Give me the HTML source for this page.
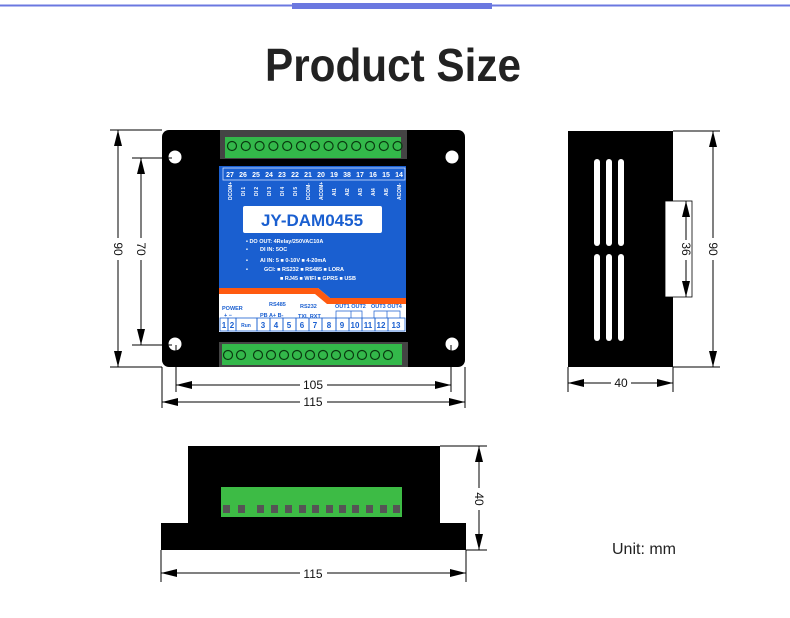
<!DOCTYPE html>
<html><head><meta charset="utf-8"><style>
body{margin:0;background:#fff}
svg{display:block;font-family:"Liberation Sans",sans-serif}
</style></head><body>
<svg width="790" height="618" viewBox="0 0 790 618" xmlns="http://www.w3.org/2000/svg">
<defs>
<marker id="b" viewBox="0 0 20 10" refX="20" refY="5" markerWidth="20" markerHeight="8" orient="auto-start-reverse" markerUnits="userSpaceOnUse"><path d="M0,0L20,5L0,10z" fill="#000"/></marker>
</defs>
<rect x="0" y="4.5" width="790" height="2" fill="#6b78e0"/>
<rect x="292" y="3" width="200" height="6" fill="#6b78e0"/>
<text x="393" y="81" text-anchor="middle" font-size="46" font-weight="bold" fill="#222" textLength="256" lengthAdjust="spacingAndGlyphs">Product Size</text>

<!-- TOP VIEW -->
<rect x="162" y="130" width="303" height="237" rx="7" fill="#000"/>
<circle cx="175" cy="157" r="6.5" fill="#fff"/><circle cx="452" cy="157" r="6.5" fill="#fff"/>
<circle cx="175" cy="344" r="6.5" fill="#fff"/><circle cx="452" cy="344" r="6.5" fill="#fff"/>
<rect x="220" y="130" width="187" height="29" fill="#444"/>
<rect x="225" y="137" width="176" height="21" fill="#33b84a"/>
<g fill="none" stroke="#0a3a10" stroke-width="1.2">
<circle cx="232" cy="146" r="4.5"/><circle cx="245.8" cy="146" r="4.5"/><circle cx="259.6" cy="146" r="4.5"/><circle cx="273.4" cy="146" r="4.5"/><circle cx="287.2" cy="146" r="4.5"/><circle cx="301" cy="146" r="4.5"/><circle cx="314.8" cy="146" r="4.5"/><circle cx="328.6" cy="146" r="4.5"/><circle cx="342.4" cy="146" r="4.5"/><circle cx="356.2" cy="146" r="4.5"/><circle cx="370" cy="146" r="4.5"/><circle cx="383.8" cy="146" r="4.5"/><circle cx="397.6" cy="146" r="4.5"/>
</g>
<rect x="219" y="342" width="189" height="25" fill="#444"/>
<rect x="222" y="344" width="180" height="21" fill="#33b84a"/>
<g fill="none" stroke="#0a3a10" stroke-width="1.2">
<circle cx="228" cy="355" r="4.5"/><circle cx="241" cy="355" r="4.5"/>
<circle cx="258" cy="355" r="4.5"/><circle cx="271" cy="355" r="4.5"/><circle cx="284" cy="355" r="4.5"/><circle cx="297" cy="355" r="4.5"/><circle cx="310" cy="355" r="4.5"/><circle cx="323" cy="355" r="4.5"/><circle cx="336" cy="355" r="4.5"/><circle cx="349" cy="355" r="4.5"/><circle cx="362" cy="355" r="4.5"/><circle cx="375" cy="355" r="4.5"/><circle cx="388" cy="355" r="4.5"/>
</g>
<!-- panel -->
<rect x="219" y="166" width="187" height="166" fill="#fff"/>
<path d="M219,166H406V298H330L318,288H219Z" fill="#1a5fd0"/>
<path d="M219,288H318L330,298H406V304H327L315,294H219Z" fill="#ff5a10"/>
<rect x="223" y="168" width="182" height="12" stroke="#cfe0ff" stroke-width="0.8" fill="none"/>
<g font-size="7" font-weight="bold" fill="#fff" text-anchor="middle">
<text x="230" y="177">27</text><text x="243" y="177">26</text><text x="256" y="177">25</text><text x="269" y="177">24</text><text x="282" y="177">23</text><text x="295" y="177">22</text><text x="308" y="177">21</text><text x="321" y="177">20</text><text x="334" y="177">19</text><text x="347" y="177">38</text><text x="360" y="177">17</text><text x="373" y="177">16</text><text x="386" y="177">15</text><text x="399" y="177">14</text>
</g>
<g font-size="5" font-weight="bold" fill="#fff">
<text transform="translate(232,200) rotate(-90)">DCOM+</text><text transform="translate(245,196) rotate(-90)">DI 1</text><text transform="translate(258,196) rotate(-90)">DI 2</text><text transform="translate(271,196) rotate(-90)">DI 3</text><text transform="translate(284,196) rotate(-90)">DI 4</text><text transform="translate(297,196) rotate(-90)">DI 5</text><text transform="translate(310,200) rotate(-90)">DCOM-</text><text transform="translate(323,200) rotate(-90)">ACOM+</text><text transform="translate(336,196) rotate(-90)">AI1</text><text transform="translate(349,196) rotate(-90)">AI2</text><text transform="translate(362,196) rotate(-90)">AI3</text><text transform="translate(375,196) rotate(-90)">AI4</text><text transform="translate(388,196) rotate(-90)">AI5</text><text transform="translate(401,200) rotate(-90)">ACOM-</text>
</g>
<rect x="243" y="206" width="139" height="27" rx="2" fill="#fff"/>
<text x="312" y="226" text-anchor="middle" font-size="17" font-weight="bold" fill="#1a5fd0">JY-DAM0455</text>
<g font-size="5.5" font-weight="bold" fill="#fff">
<text x="246" y="243">• DO OUT: 4Relay/250VAC10A</text>
<text x="246" y="251">•</text><text x="260" y="251">DI IN: 5OC</text>
<text x="246" y="262">•</text><text x="260" y="262">AI IN: 5 ■ 0-10V ■ 4-20mA</text>
<text x="246" y="271">•</text><text x="264" y="271">GCI: ■ RS232 ■ RS485 ■ LORA</text>
<text x="280" y="280">■ RJ45  ■ WIFI ■ GPRS ■ USB</text>
</g>
<g font-size="5.5" font-weight="bold" fill="#1a5fd0">
<text x="222" y="310">POWER</text><text x="224" y="317">+  −</text>
<text x="269" y="306">RS485</text><text x="300" y="308">RS232</text>
<text x="260" y="317">PB   A+   B-</text><text x="298" y="318">TXL RXT</text>
<text x="335" y="308">OUT1 OUT2</text><text x="371" y="308">OUT3 OUT4</text>
</g>
<g fill="none" stroke="#1a5fd0" stroke-width="0.7">
<path d="M336,318V311H351M351,311V318M351,311H362V318"/><path d="M374,318V311H400V318M387,311V318"/>
</g>
<g fill="none" stroke="#1a5fd0" stroke-width="0.8">
<rect x="220" y="318" width="8" height="13"/><rect x="228" y="318" width="8" height="13"/><rect x="236" y="318" width="21" height="13"/>
<rect x="257" y="318" width="13" height="13"/><rect x="270" y="318" width="13" height="13"/><rect x="283" y="318" width="13" height="13"/><rect x="296" y="318" width="13" height="13"/><rect x="309" y="318" width="13" height="13"/><rect x="322" y="318" width="14" height="13"/><rect x="336" y="318" width="13" height="13"/><rect x="349" y="318" width="13" height="13"/><rect x="362" y="318" width="13" height="13"/><rect x="375" y="318" width="13" height="13"/><rect x="388" y="318" width="17" height="13"/>
</g>
<g font-size="8" font-weight="bold" fill="#1a5fd0" text-anchor="middle">
<text x="224" y="328">1</text><text x="232" y="328">2</text><text x="246" y="327" font-size="5">Run</text><text x="263" y="328">3</text><text x="276" y="328">4</text><text x="289" y="328">5</text><text x="302" y="328">6</text><text x="315" y="328">7</text><text x="329" y="328">8</text><text x="342" y="328">9</text><text x="355" y="328">10</text><text x="368" y="328">11</text><text x="381" y="328">12</text><text x="396" y="328">13</text>
</g>

<!-- top view dims -->
<g stroke="#000" stroke-width="1" fill="none">
<line x1="110" y1="130" x2="162" y2="130"/><line x1="110" y1="367" x2="162" y2="367"/>
<line x1="132" y1="158" x2="172" y2="158"/><line x1="132" y1="345" x2="172" y2="345"/>
<line x1="118" y1="130" x2="118" y2="238" marker-start="url(#b)"/><line x1="118" y1="260" x2="118" y2="367" marker-end="url(#b)"/>
<line x1="141" y1="158" x2="141" y2="238" marker-start="url(#b)"/><line x1="141" y1="260" x2="141" y2="345" marker-end="url(#b)"/>
<line x1="176" y1="345" x2="176" y2="392"/><line x1="451" y1="345" x2="451" y2="392"/>
<line x1="162" y1="367" x2="162" y2="408"/><line x1="465" y1="367" x2="465" y2="408"/>
<line x1="176" y1="385" x2="300" y2="385" marker-start="url(#b)"/><line x1="327" y1="385" x2="451" y2="385" marker-end="url(#b)"/>
<line x1="162" y1="402" x2="300" y2="402" marker-start="url(#b)"/><line x1="327" y1="402" x2="465" y2="402" marker-end="url(#b)"/>
</g>
<g font-size="12" fill="#111" text-anchor="middle">
<text transform="translate(114,249) rotate(90)">90</text>
<text transform="translate(137,249) rotate(90)">70</text>
<text x="313" y="389">105</text><text x="313" y="406">115</text>
</g>

<!-- SIDE VIEW -->
<rect x="568" y="131" width="105" height="236" fill="#000"/>
<rect x="665" y="201" width="27" height="96" fill="#fff" stroke="#000" stroke-width="0.8"/>
<g fill="#fff">
<rect x="594" y="159" width="6" height="87" rx="3"/><rect x="606" y="159" width="6" height="87" rx="3"/><rect x="618" y="159" width="6" height="87" rx="3"/>
<rect x="594" y="254" width="6" height="87" rx="3"/><rect x="606" y="254" width="6" height="87" rx="3"/><rect x="618" y="254" width="6" height="87" rx="3"/>
</g>
<g stroke="#000" stroke-width="1" fill="none">
<line x1="673" y1="131" x2="720" y2="131"/><line x1="673" y1="367" x2="720" y2="367"/>
<line x1="686" y1="201" x2="686" y2="240" marker-start="url(#b)"/><line x1="686" y1="260" x2="686" y2="297" marker-end="url(#b)"/>
<line x1="713" y1="131" x2="713" y2="238" marker-start="url(#b)"/><line x1="713" y1="260" x2="713" y2="367" marker-end="url(#b)"/>
<line x1="568" y1="367" x2="568" y2="392"/><line x1="673" y1="367" x2="673" y2="392"/>
<line x1="568" y1="383" x2="611" y2="383" marker-start="url(#b)"/><line x1="631" y1="383" x2="673" y2="383" marker-end="url(#b)"/>
</g>
<g font-size="12" fill="#111" text-anchor="middle">
<text transform="translate(682,249) rotate(90)">36</text>
<text transform="translate(709,249) rotate(90)">90</text>
<text x="621" y="387">40</text>
</g>

<!-- BOTTOM VIEW -->
<rect x="188" y="446" width="252" height="80" fill="#000"/>
<rect x="161" y="523" width="305" height="27" fill="#000"/>
<rect x="221" y="487" width="181" height="30" fill="#3dbb45"/>
<g fill="#555">
<rect x="223" y="505" width="7" height="8"/><rect x="238" y="505" width="7" height="8"/><rect x="257" y="505" width="7" height="8"/><rect x="271" y="505" width="7" height="8"/><rect x="285" y="505" width="7" height="8"/><rect x="299" y="505" width="7" height="8"/><rect x="312" y="505" width="7" height="8"/><rect x="326" y="505" width="7" height="8"/><rect x="339" y="505" width="7" height="8"/><rect x="352" y="505" width="7" height="8"/><rect x="366" y="505" width="7" height="8"/><rect x="380" y="505" width="7" height="8"/><rect x="393" y="505" width="7" height="8"/>
</g>
<g stroke="#000" stroke-width="1" fill="none">
<line x1="440" y1="446" x2="487" y2="446"/><line x1="466" y1="550" x2="487" y2="550"/>
<line x1="479" y1="446" x2="479" y2="488" marker-start="url(#b)"/><line x1="479" y1="510" x2="479" y2="550" marker-end="url(#b)"/>
<line x1="161" y1="550" x2="161" y2="582"/><line x1="466" y1="550" x2="466" y2="582"/>
<line x1="161" y1="573" x2="300" y2="573" marker-start="url(#b)"/><line x1="327" y1="573" x2="466" y2="573" marker-end="url(#b)"/>
</g>
<g font-size="12" fill="#111" text-anchor="middle">
<text transform="translate(475,499) rotate(90)">40</text>
<text x="313" y="578">115</text>
</g>
<text x="612" y="554" font-size="16" fill="#222">Unit: mm</text>
</svg>
</body></html>
